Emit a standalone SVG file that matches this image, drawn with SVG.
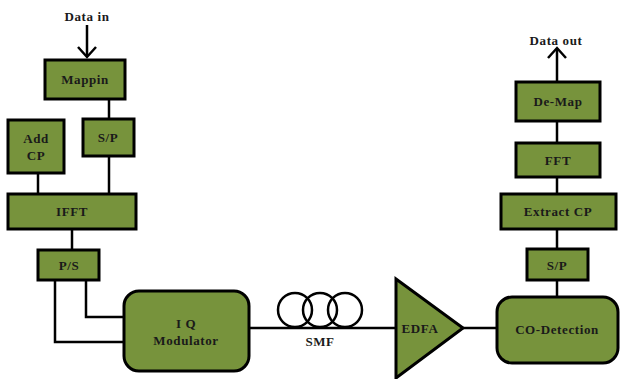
<svg xmlns="http://www.w3.org/2000/svg" width="620" height="379" viewBox="0 0 620 379">
  <defs>
    <style>
      .box { fill: #77933c; stroke: #000; stroke-width: 3; }
      .wire { fill: none; stroke: #000; stroke-width: 2.5; }
      .coil { fill: none; stroke: #000; stroke-width: 2.5; }
      text { font-family: 'Liberation Serif', 'DejaVu Serif', serif; font-weight: bold; font-size: 13px; fill: #1a1a1a; text-anchor: middle; letter-spacing: 0.6px; }
    </style>
  </defs>
  <rect width="620" height="379" fill="#fff"/>

  <!-- connectors -->
  <g id="connectors">
    <path class="wire" d="M87 25 V56"/>
    <path class="wire" d="M78 47 L87 57 L96 47"/>
    <path class="wire" d="M109 99 V118"/>
    <path class="wire" d="M38 173 V194"/>
    <path class="wire" d="M109 156 V194"/>
    <path class="wire" d="M72 229 V249"/>
    <path class="wire" d="M55 280 V342 H124"/>
    <path class="wire" d="M86 280 V317 H124"/>
    <path class="wire" d="M249 328 H395"/>
    <path class="wire" d="M463 328 H497"/>
    <path class="wire" d="M557 297 V280"/>
    <path class="wire" d="M557 248 V229"/>
    <path class="wire" d="M557 193 V177"/>
    <path class="wire" d="M557 143 V121"/>
    <path class="wire" d="M557 82 V49"/>
    <path class="wire" d="M548 58 L557 48 L566 58"/>
  </g>

  <text font-family="Liberation Serif, serif" x="87" y="21">Data in</text>
  <text font-family="Liberation Serif, serif" x="556" y="45">Data out</text>

  <g id="mappin">
    <rect class="box" x="45" y="60" width="80" height="39"/>
    <text x="85" y="84">Mappin</text>
  </g>
  <g id="add-cp">
    <rect class="box" x="8" y="120" width="56" height="53"/>
    <text x="36" y="143">Add</text>
    <text x="36" y="160">CP</text>
  </g>
  <g id="sp-tx">
    <rect class="box" x="83" y="119" width="51" height="37"/>
    <text x="108" y="142">S/P</text>
  </g>
  <g id="ifft">
    <rect class="box" x="8" y="194" width="128" height="35"/>
    <text x="72" y="216">IFFT</text>
  </g>
  <g id="ps">
    <rect class="box" x="38" y="250" width="61" height="30"/>
    <text x="69" y="270">P/S</text>
  </g>
  <g id="iq-modulator">
    <rect class="box" x="124" y="291" width="125" height="80" rx="15"/>
    <text x="186" y="328">I Q</text>
    <text x="186" y="345">Modulator</text>
  </g>
  <g id="smf">
    <circle class="coil" cx="295" cy="310" r="17"/>
    <circle class="coil" cx="320" cy="310" r="17"/>
    <circle class="coil" cx="345" cy="310" r="17"/>
    <text x="320" y="346">SMF</text>
  </g>
  <g id="edfa">
    <polygon class="box" points="396,279 396,378 463,328"/>
    <text x="420" y="333">EDFA</text>
  </g>
  <g id="co-detection">
    <rect class="box" x="497" y="297" width="121" height="66" rx="15"/>
    <text x="557" y="334">CO-Detection</text>
  </g>
  <g id="sp-rx">
    <rect class="box" x="527" y="249" width="61" height="31"/>
    <text x="557" y="270">S/P</text>
  </g>
  <g id="extract-cp">
    <rect class="box" x="501" y="194" width="115" height="35"/>
    <text x="558" y="216">Extract CP</text>
  </g>
  <g id="fft">
    <rect class="box" x="516" y="143" width="84" height="34"/>
    <text x="558" y="165">FFT</text>
  </g>
  <g id="de-map">
    <rect class="box" x="516" y="82" width="84" height="39"/>
    <text x="558" y="106">De-Map</text>
  </g>
</svg>
